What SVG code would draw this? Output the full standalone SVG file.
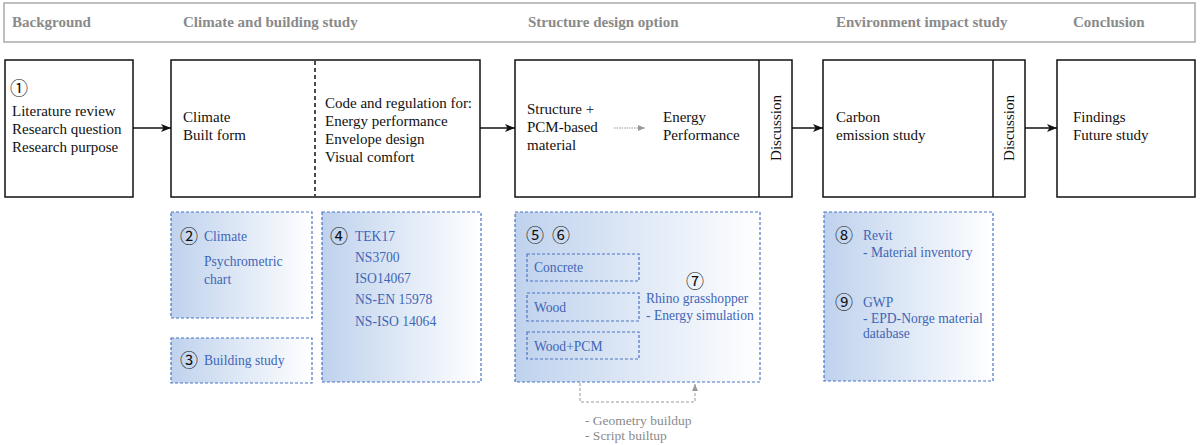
<svg xmlns="http://www.w3.org/2000/svg" width="1200" height="445" viewBox="0 0 1200 445" font-family="Liberation Serif, serif">
<style>
.hdr{font-weight:bold;font-size:15px;fill:#8a8a8a}
.t{font-size:15px;fill:#111}
.b{font-size:13.6px;fill:#3f66b5}
.n{font-size:18px;fill:#111}
.box{fill:#fff;stroke:#111;stroke-width:1.5}
.bbox{fill:url(#g);stroke:#4a74c6;stroke-width:1.2;stroke-dasharray:3 2}
.sbox{fill:none;stroke:#4a74c6;stroke-width:1.2;stroke-dasharray:3 2}
.g{font-size:13.5px;fill:#8a8a8a}
</style>
<defs>
<linearGradient id="g" x1="0" y1="0" x2="1" y2="0">
<stop offset="0" stop-color="#bfd2ed"/>
<stop offset="1" stop-color="#ffffff"/>
</linearGradient>
<marker id="ah" markerWidth="10" markerHeight="8" refX="10" refY="4" orient="auto" markerUnits="userSpaceOnUse">
<path d="M0,0 L10,4 L0,8 L2.5,4 Z" fill="#111"/>
</marker>
<marker id="ahg" markerWidth="7" markerHeight="6" refX="7" refY="3" orient="auto" markerUnits="userSpaceOnUse">
<path d="M0,0 L7,3 L0,6 Z" fill="#999"/>
</marker>
</defs>
<rect width="1200" height="445" fill="#fff"/>

<g id="header">
<rect x="4" y="3" width="1191" height="39" fill="#fff" stroke="#aaa" stroke-width="1.5"/>
<text class="hdr" x="12" y="27">Background</text>
<text class="hdr" x="183" y="27">Climate and building study</text>
<text class="hdr" x="528" y="27">Structure design option</text>
<text class="hdr" x="836" y="27">Environment impact study</text>
<text class="hdr" x="1073" y="27">Conclusion</text>
</g>

<g id="n-background">
<rect class="box" x="5" y="60" width="128" height="137"/>
<text class="n" x="10" y="95" font-family="Noto Sans CJK SC, sans-serif">①</text>
<text class="t" x="12" y="116">Literature review</text>
<text class="t" x="12" y="134">Research question</text>
<text class="t" x="12" y="152">Research purpose</text>
</g>

<g id="n-climate">
<rect class="box" x="171" y="60" width="309" height="137"/>
<line x1="315" y1="61" x2="315" y2="196" stroke="#111" stroke-width="1.5" stroke-dasharray="4 3"/>
<text class="t" x="183" y="122">Climate</text>
<text class="t" x="183" y="140">Built form</text>
<text class="t" x="325" y="108">Code and regulation for:</text>
<text class="t" x="325" y="126">Energy performance</text>
<text class="t" x="325" y="144">Envelope design</text>
<text class="t" x="325" y="162">Visual comfort</text>
</g>

<g id="n-structure">
<rect class="box" x="515" y="60" width="277" height="137"/>
<line x1="759" y1="60" x2="759" y2="197" stroke="#111" stroke-width="1.5"/>
<text class="t" x="527" y="114">Structure +</text>
<text class="t" x="527" y="132">PCM-based</text>
<text class="t" x="527" y="150">material</text>
<line x1="614" y1="128" x2="645" y2="128" stroke="#999" stroke-width="1" stroke-dasharray="1.5 1" marker-end="url(#ahg)"/>
<text class="t" x="663" y="122">Energy</text>
<text class="t" x="663" y="140">Performance</text>
<text class="t" transform="translate(780.5,128) rotate(-90)" text-anchor="middle">Discussion</text>
</g>

<g id="n-environment">
<rect class="box" x="823" y="60" width="202" height="137"/>
<line x1="993" y1="60" x2="993" y2="197" stroke="#111" stroke-width="1.5"/>
<text class="t" x="836" y="122">Carbon</text>
<text class="t" x="836" y="140">emission study</text>
<text class="t" transform="translate(1014,128) rotate(-90)" text-anchor="middle">Discussion</text>
</g>

<g id="n-conclusion">
<rect class="box" x="1057" y="60" width="138" height="137"/>
<text class="t" x="1073" y="122">Findings</text>
<text class="t" x="1073" y="140">Future study</text>
</g>

<g id="connectors">
<line x1="133" y1="128" x2="171" y2="128" stroke="#111" stroke-width="1.5" marker-end="url(#ah)"/>
<line x1="480" y1="128" x2="515" y2="128" stroke="#111" stroke-width="1.5" marker-end="url(#ah)"/>
<line x1="792" y1="128" x2="823" y2="128" stroke="#111" stroke-width="1.5" marker-end="url(#ah)"/>
<line x1="1025" y1="128" x2="1057" y2="128" stroke="#111" stroke-width="1.5" marker-end="url(#ah)"/>
<path d="M580,383 V402 H695 V384" fill="none" stroke="#999" stroke-width="1" stroke-dasharray="3 2" marker-end="url(#ahg)"/>
</g>

<g id="b-climate">
<rect class="bbox" x="171" y="212" width="141" height="106"/>
<text class="n" x="180" y="243" font-family="Noto Sans CJK SC, sans-serif">②</text>
<text class="b" x="204" y="241">Climate</text>
<text class="b" x="204" y="266">Psychrometric</text>
<text class="b" x="204" y="284">chart</text>
</g>

<g id="b-building">
<rect class="bbox" x="171" y="338" width="141" height="45"/>
<text class="n" x="180" y="367" font-family="Noto Sans CJK SC, sans-serif">③</text>
<text class="b" x="204" y="365">Building study</text>
</g>

<g id="b-codes">
<rect class="bbox" x="322" y="212" width="159" height="170"/>
<text class="n" x="330" y="243" font-family="Noto Sans CJK SC, sans-serif">④</text>
<text class="b" x="355" y="241">TEK17</text>
<text class="b" x="355" y="262">NS3700</text>
<text class="b" x="355" y="283">ISO14067</text>
<text class="b" x="355" y="304">NS-EN 15978</text>
<text class="b" x="355" y="326">NS-ISO 14064</text>
</g>

<g id="b-structure">
<rect class="bbox" x="515" y="212" width="245" height="170"/>
<text class="n" x="526" y="242" font-family="Noto Sans CJK SC, sans-serif">⑤</text>
<text class="n" x="552" y="242" font-family="Noto Sans CJK SC, sans-serif">⑥</text>
<rect class="sbox" x="527" y="254" width="112" height="27"/>
<text class="b" x="534" y="272">Concrete</text>
<rect class="sbox" x="527" y="293" width="112" height="28"/>
<text class="b" x="534" y="312">Wood</text>
<rect class="sbox" x="527" y="332" width="112" height="27"/>
<text class="b" x="534" y="351">Wood+PCM</text>
<text class="n" x="686" y="288" font-family="Noto Sans CJK SC, sans-serif">⑦</text>
<text class="b" x="646" y="303">Rhino grasshopper</text>
<text class="b" x="646" y="320">- Energy simulation</text>
</g>

<g id="b-carbon">
<rect class="bbox" x="824" y="212" width="169" height="169"/>
<text class="n" x="835" y="242" font-family="Noto Sans CJK SC, sans-serif">⑧</text>
<text class="b" x="863" y="240">Revit</text>
<text class="b" x="863" y="257">- Material inventory</text>
<text class="n" x="835" y="309" font-family="Noto Sans CJK SC, sans-serif">⑨</text>
<text class="b" x="863" y="307">GWP</text>
<text class="b" x="863" y="323">- EPD-Norge material</text>
<text class="b" x="863" y="338">database</text>
</g>

<g id="script-note">
<text class="g" x="585" y="425">- Geometry buildup</text>
<text class="g" x="585" y="440">- Script builtup</text>
</g>
</svg>
